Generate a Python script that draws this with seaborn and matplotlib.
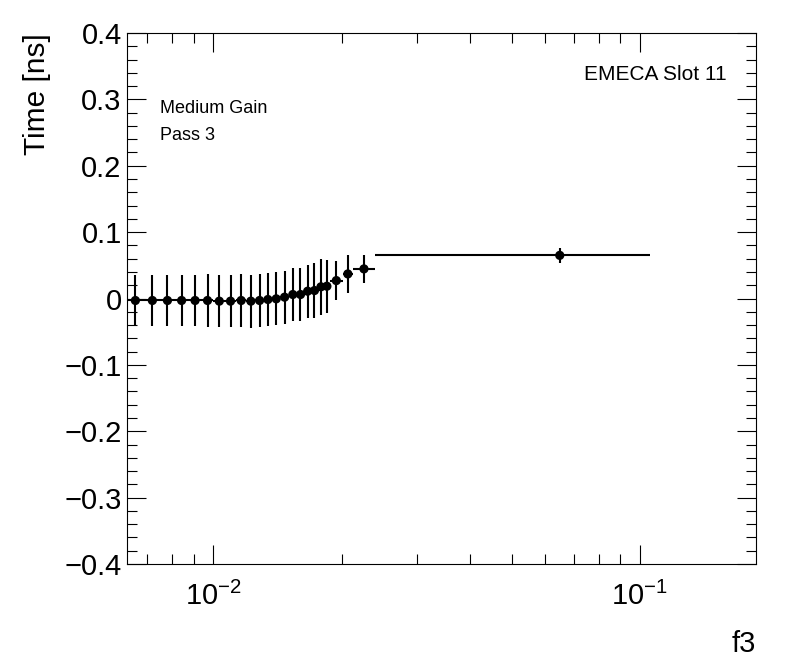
import matplotlib
matplotlib.use("Agg")
import matplotlib.pyplot as plt
import matplotlib.ticker as mticker
import numpy as np
import pandas as pd
import seaborn as sns

# f3 bin edges (last bin is the wide one)
bin_edges = [0.00624, 0.00688, 0.00750, 0.00810, 0.00874, 0.00937, 0.01000,
             0.01064, 0.01129, 0.01194, 0.01254, 0.01312, 0.01372, 0.01435,
             0.01502, 0.01568, 0.01632, 0.01694, 0.01757, 0.01817, 0.01873,
             0.02010, 0.02122, 0.02386, 0.10590]

# mean time per bin [ns] and its error
time_mean = [-0.003, -0.003, -0.003, -0.003, -0.003, -0.003, -0.004, -0.004,
             -0.003, -0.004, -0.003, -0.0015, -0.0005, 0.002, 0.006, 0.006,
             0.011, 0.012, 0.0176, 0.0185, 0.027, 0.037, 0.0446, 0.065]
time_err = [0.039, 0.039, 0.039, 0.039, 0.039, 0.040, 0.039, 0.039, 0.040,
            0.040, 0.040, 0.040, 0.040, 0.040, 0.040, 0.040, 0.040, 0.042,
            0.042, 0.040, 0.029, 0.029, 0.021, 0.011]

edges = np.array(bin_edges)
df = pd.DataFrame({
    "f3": (edges[:-1] + edges[1:]) / 2,
    "xerr": (edges[1:] - edges[:-1]) / 2,
    "time": time_mean,
    "err": time_err,
})

sns.set_theme(style="ticks")
plt.rcParams.update({
    "font.family": ["Liberation Sans", "DejaVu Sans"],
    "text.color": "black",
    "axes.linewidth": 0.8,
    "axes.edgecolor": "black",
    "xtick.color": "black",
    "ytick.color": "black",
    "xtick.labelcolor": "black",
    "ytick.labelcolor": "black",
})

fig = plt.figure(figsize=(7.96, 6.72), dpi=100)
ax = fig.add_axes([127 / 796, 1 - 564 / 672, 629 / 796, 531 / 672])

ax.errorbar(df["f3"], df["time"], xerr=df["xerr"], yerr=df["err"],
            fmt="none", ecolor="black", elinewidth=1.5, capsize=0, zorder=2)
sns.scatterplot(data=df, x="f3", y="time", ax=ax, color="black", s=44,
                edgecolor="none", zorder=3, legend=False)

ax.set_xscale("log")
ax.set_xlim(0.00627, 0.1872)
ax.set_ylim(-0.4, 0.4)
ax.set_xlabel("")
ax.set_ylabel("")

ax.xaxis.set_major_locator(mticker.LogLocator(base=10))
ax.xaxis.set_minor_locator(mticker.LogLocator(base=10, subs=np.arange(2, 10)))
ax.xaxis.set_major_formatter(mticker.LogFormatterSciNotation())
ax.xaxis.set_minor_formatter(mticker.NullFormatter())

ax.yaxis.set_major_locator(mticker.MultipleLocator(0.1))
ax.yaxis.set_minor_locator(mticker.MultipleLocator(0.02))
ax.yaxis.set_major_formatter(mticker.FuncFormatter(
    lambda v, p: "0" if abs(v) < 1e-9 else f"{v:.1f}".replace("-", "\u2212")))

ax.tick_params(which="both", direction="in", top=True, right=True,
               width=0.8, labelsize=21)
ax.tick_params(axis="x", which="major", length=14, pad=13)
ax.tick_params(axis="x", which="minor", length=7)
ax.tick_params(axis="y", which="major", length=14, pad=3.8)
ax.tick_params(axis="y", which="minor", length=7)

for s in ax.spines.values():
    s.set_visible(True)

fig.text(45 / 796, 1 - 33.3 / 672, "Time [ns]", rotation=90,
         rotation_mode="anchor", ha="right", va="baseline", fontsize=21.5)
fig.text(756 / 796, 1 - 652 / 672, "f3", ha="right", va="baseline",
         fontsize=21)
fig.text(160 / 796, 1 - 113 / 672, "Medium Gain", ha="left", va="baseline",
         fontsize=13)
fig.text(160 / 796, 1 - 140 / 672, "Pass 3", ha="left", va="baseline",
         fontsize=13)
fig.text(727 / 796, 1 - 80 / 672, "EMECA Slot 11", ha="right", va="baseline",
         fontsize=15)

fig.savefig("out.png", dpi=100)
plt.close(fig)
